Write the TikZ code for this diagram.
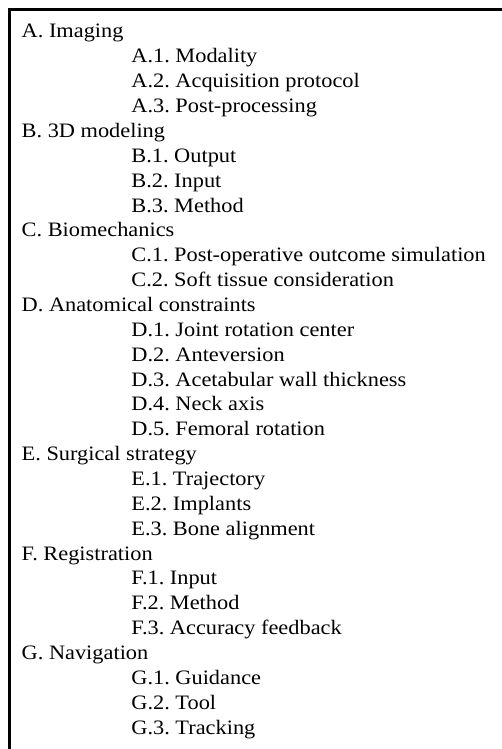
\documentclass[tikz,border=0pt]{standalone}
\usepackage{fontspec}
\setmainfont{Liberation Serif}[FakeStretch=1.09]
\begin{document}
\frenchspacing
\begin{tikzpicture}[x=1pt,y=1pt,
  frame/.style={line width=3pt,line cap=rect},
  top/.style={anchor=base west,inner sep=0pt,font=\fontsize{20.5}{24}\selectfont},
  sub/.style={anchor=base west,inner sep=0pt,font=\fontsize{20.5}{24}\selectfont}]
\useasboundingbox (0,0) rectangle (502,-749);
\coordinate (tl) at (9.5,-9.5);
\coordinate (tr) at (503,-9.5);
\coordinate (bl) at (9.5,-751);
\draw[frame] (tr) -- (tl) -- (bl);
\def\ls{24.86}
\def\xa{21.5}
\def\xb{131.2}
\def\yo{-38}
\node[top] (A)  at (\xa,\yo-0*\ls) {A. Imaging};
\node[sub] (A1) at (\xb,\yo-1*\ls) {A.1. Modality};
\node[sub] (A2) at (\xb,\yo-2*\ls) {A.2. Acquisition protocol};
\node[sub] (A3) at (\xb,\yo-3*\ls) {A.3. Post-processing};
\node[top] (B)  at (\xa,\yo-4*\ls) {B. 3D modeling};
\node[sub] (B1) at (\xb,\yo-5*\ls) {B.1. Output};
\node[sub] (B2) at (\xb,\yo-6*\ls) {B.2. Input};
\node[sub] (B3) at (\xb,\yo-7*\ls) {B.3. Method};
\node[top] (C)  at (\xa,\yo-8*\ls) {C. Biomechanics};
\node[sub] (C1) at (\xb,\yo-9*\ls) {C.1. Post-operative outcome simulation};
\node[sub] (C2) at (\xb,\yo-10*\ls) {C.2. Soft tissue consideration};
\node[top] (D)  at (\xa,\yo-11*\ls) {D. Anatomical constraints};
\node[sub] (D1) at (\xb,\yo-12*\ls) {D.1. Joint rotation center};
\node[sub] (D2) at (\xb,\yo-13*\ls) {D.2. Anteversion};
\node[sub] (D3) at (\xb,\yo-14*\ls) {D.3. Acetabular wall thickness};
\node[sub] (D4) at (\xb,\yo-15*\ls) {D.4. Neck axis};
\node[sub] (D5) at (\xb,\yo-16*\ls) {D.5. Femoral rotation};
\node[top] (E)  at (\xa,\yo-17*\ls) {E. Surgical strategy};
\node[sub] (E1) at (\xb,\yo-18*\ls) {E.1. Trajectory};
\node[sub] (E2) at (\xb,\yo-19*\ls) {E.2. Implants};
\node[sub] (E3) at (\xb,\yo-20*\ls) {E.3. Bone alignment};
\node[top] (F)  at (\xa,\yo-21*\ls) {F. Registration};
\node[sub] (F1) at (\xb,\yo-22*\ls) {F.1. Input};
\node[sub] (F2) at (\xb,\yo-23*\ls) {F.2. Method};
\node[sub] (F3) at (\xb,\yo-24*\ls) {F.3. Accuracy feedback};
\node[top] (G)  at (\xa,\yo-25*\ls) {G. Navigation};
\node[sub] (G1) at (\xb,\yo-26*\ls) {G.1. Guidance};
\node[sub] (G2) at (\xb,\yo-27*\ls) {G.2. Tool};
\node[sub] (G3) at (\xb,\yo-28*\ls) {G.3. Tracking};
\end{tikzpicture}
\end{document}
